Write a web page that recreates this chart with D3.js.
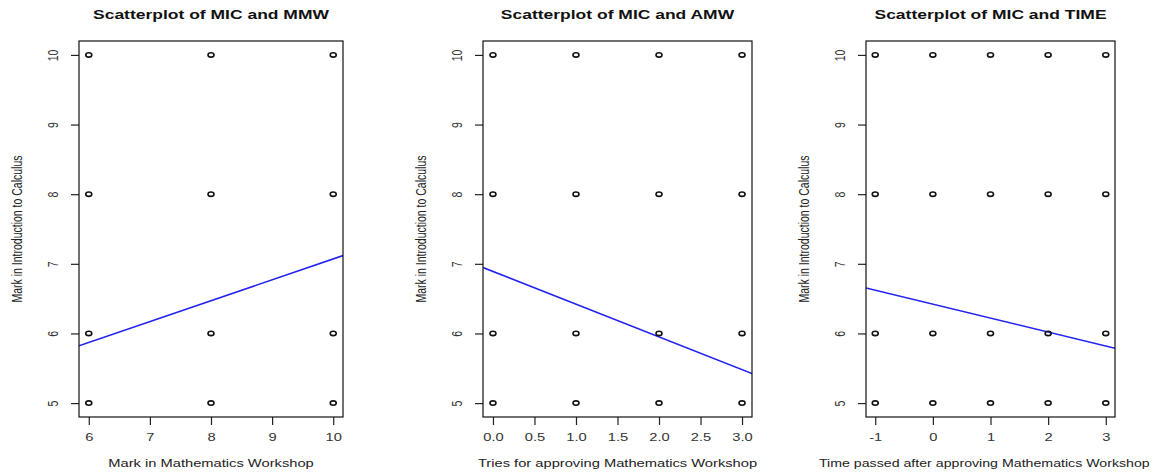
<!DOCTYPE html>
<html><head><meta charset="utf-8">
<script src="https://cdn.jsdelivr.net/npm/d3@7"></script>
<style>
html,body{margin:0;padding:0;background:#fff;}
svg{display:block;font-family:"Liberation Sans",Arial,Helvetica,sans-serif;}
</style></head>
<body>
<svg id="chart" width="1152" height="473"></svg>
<script>
// ---------- data ----------
const titles = ["Scatterplot of MIC and MMW", "Scatterplot of MIC and AMW", "Scatterplot of MIC and TIME"];
const xLabels = ["Mark in Mathematics Workshop", "Tries for approving Mathematics Workshop", "Time passed after approving Mathematics Workshop"];
const yLabel = "Mark in Introduction to Calculus";

const mmwX = [6, 6, 6, 6, 8, 8, 8, 8, 10, 10, 10, 10];
const mmwY = [5, 6, 8, 10, 5, 6, 8, 10, 5, 6, 8, 10];
const amwX = [0, 0, 0, 0, 1, 1, 1, 1, 2, 2, 2, 2, 3, 3, 3, 3];
const amwY = [5, 6, 8, 10, 5, 6, 8, 10, 5, 6, 8, 10, 5, 6, 8, 10];
const timeX = [-1, -1, -1, -1, 0, 0, 0, 0, 1, 1, 1, 1, 2, 2, 2, 2, 3, 3, 3, 3];
const timeY = [5, 6, 8, 10, 5, 6, 8, 10, 5, 6, 8, 10, 5, 6, 8, 10, 5, 6, 8, 10];

const xTicksMMW = [6, 7, 8, 9, 10];
const xTicksAMW = [0, 0.5, 1, 1.5, 2, 2.5, 3];
const xTicksTIME = [-1, 0, 1, 2, 3];
const yTicks = [5, 6, 7, 8, 9, 10];

// regression lines [intercept, slope]
const fitMMW = [4.07, 0.30];
const fitAMW = [6.89, -0.47];
const fitTIME = [6.42, -0.20];

// ---------- layout ----------
const boxLeft = [79, 483, 866];
const boxRight = [343, 752, 1115];
const boxTop = 41, boxBottom = 417;
const SX = 1.4; // horizontal stretch of the original raster

const panels = [
  {x: mmwX, y: mmwY, ticks: xTicksMMW, fit: fitMMW, fmt: d => String(d)},
  {x: amwX, y: amwY, ticks: xTicksAMW, fit: fitAMW, fmt: d3.format(".1f")},
  {x: timeX, y: timeY, ticks: xTicksTIME, fit: fitTIME, fmt: d => String(d)}
];

const svg = d3.select("#chart");

function ext(arr) {
  const [a, b] = d3.extent(arr);
  const pad = (b - a) * 0.04;
  return [a - pad, b + pad];
}

panels.forEach((p, i) => {
  const L = boxLeft[i], R = boxRight[i];
  const x = d3.scaleLinear().domain(ext(p.x)).range([L, R]);
  const y = d3.scaleLinear().domain(ext(p.y)).range([boxBottom, boxTop]);
  const g = svg.append("g");

  // title
  g.append("text")
    .attr("transform", `translate(${(L + R) / 2},19) scale(${SX},1)`)
    .attr("text-anchor", "middle")
    .attr("font-size", 12.5).attr("font-weight", "bold").attr("fill", "#111")
    .text(titles[i]);

  // x axis
  const xa = g.append("g").attr("transform", `translate(0,${boxBottom})`)
    .call(d3.axisBottom(x).tickValues(p.ticks).tickFormat(p.fmt).tickSize(8).tickSizeOuter(0));
  xa.select(".domain").remove();
  xa.selectAll(".tick line").attr("stroke", "#222").attr("stroke-width", 1.2);
  xa.selectAll(".tick text")
    .attr("y", 0).attr("dy", null)
    .attr("transform", `translate(0,24) scale(${SX},1)`)
    .attr("font-size", 10.5).attr("fill", "#333").attr("font-family", null);

  // y axis
  const ya = g.append("g").attr("transform", `translate(${L},0)`)
    .call(d3.axisLeft(y).tickValues(yTicks).tickFormat(d => String(d)).tickSize(8).tickSizeOuter(0));
  ya.select(".domain").remove();
  ya.selectAll(".tick line").attr("stroke", "#222").attr("stroke-width", 1.2);
  ya.selectAll(".tick text")
    .attr("x", 0).attr("dy", null).attr("y", 0)
    .attr("text-anchor", "middle")
    .attr("transform", `translate(-21,0) scale(${SX},1) rotate(-90)`)
    .attr("font-size", 10.5).attr("fill", "#333").attr("font-family", null);

  // axis titles
  const xt = g.append("text")
    .attr("text-anchor", "middle")
    .attr("font-size", 10.5).attr("fill", "#222")
    .text(xLabels[i]);
  const w = xt.node().getComputedTextLength();
  const cx = (L + R) / 2;
  // keep the label inside the picture (the last one would run past the right edge)
  const maxHalf = Math.min(w * SX / 2, 1150 - cx);
  const startX = Math.min(cx - w * SX / 2, 1150 - w * SX);
  if (startX + w * SX > 1150 || i === 2) {
    const sx = Math.min(SX, (1150 - (cx - w * SX / 2)) / w);
    xt.attr("text-anchor", "start")
      .attr("transform", `translate(${cx - w * SX / 2},467) scale(${sx},1)`);
  } else {
    xt.attr("transform", `translate(${cx},467) scale(${SX},1)`);
  }

  g.append("text")
    .attr("transform", `translate(${L - 57},${(boxTop + boxBottom) / 2}) scale(${SX},1) rotate(-90)`)
    .attr("text-anchor", "middle")
    .attr("font-size", 10.5).attr("fill", "#222")
    .text(yLabel);

  // clip for fit line
  const cid = "clip" + i;
  svg.append("clipPath").attr("id", cid).append("rect")
    .attr("x", L).attr("y", boxTop).attr("width", R - L).attr("height", boxBottom - boxTop);

  // regression line
  const [x0, x1] = x.domain();
  const f = v => p.fit[0] + p.fit[1] * v;
  g.append("line")
    .attr("clip-path", `url(#${cid})`)
    .attr("x1", x(x0)).attr("y1", y(f(x0)))
    .attr("x2", x(x1)).attr("y2", y(f(x1)))
    .attr("stroke", "#2222ee").attr("stroke-width", 1.6);

  // points
  g.selectAll("ellipse.pt").data(p.x.map((v, k) => [v, p.y[k]])).enter()
    .append("ellipse").attr("class", "pt")
    .attr("cx", d => x(d[0])).attr("cy", d => y(d[1]))
    .attr("rx", 3.0).attr("ry", 2.2)
    .attr("fill", "none").attr("stroke", "#111").attr("stroke-width", 1.6);

  // box
  g.append("rect")
    .attr("x", L).attr("y", boxTop).attr("width", R - L).attr("height", boxBottom - boxTop)
    .attr("fill", "none").attr("stroke", "#111").attr("stroke-width", 1.2);
});
</script>
</body></html>
